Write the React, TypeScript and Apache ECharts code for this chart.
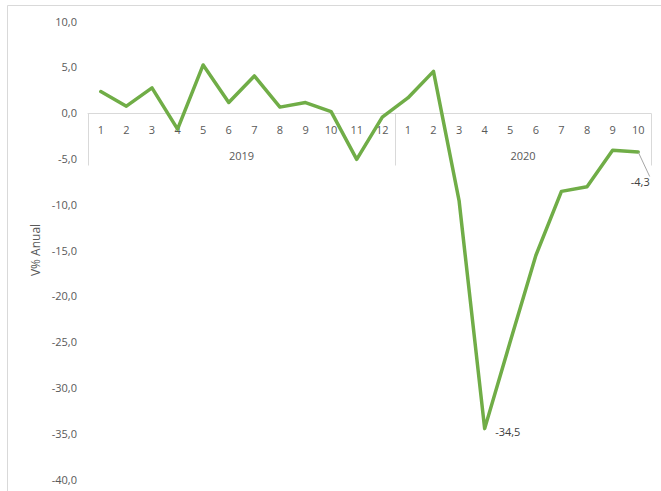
import React, { useEffect, useRef } from "react";
import * as echarts from "echarts";

const months = [
  "1", "2", "3", "4", "5", "6", "7", "8", "9", "10", "11", "12",
  "1", "2", "3", "4", "5", "6", "7", "8", "9", "10",
];
const years = ["2019", "2020"];
const yearCenters = [6, 17];
const yearBoundaries = [0, 12, 22];
const values = [
  2.3, 0.7, 2.7, -1.8, 5.2, 1.1, 4.0, 0.6, 1.1, 0.1, -5.1, -0.5,
  1.6, 4.5, -9.6, -34.5, -25.0, -15.6, -8.6, -8.1, -4.1, -4.3,
];
const labeledIndices = [15, 21];
const yMin = -40;
const yMax = 10;

const fmt = (v: number) => v.toFixed(1).replace(".", ",");
const FONT = "Open Sans";
const TXT = "#595959";

export default function App() {
  const ref = useRef<HTMLDivElement>(null);
  useEffect(() => {
    document.body.style.margin = "0";
    const chart = echarts.init(ref.current!, null, { renderer: "svg" });
    const H = 491;
    const gTop = 21, gBottom = 12, gLeft = 88, gRight = 10;
    const plotH = H - gTop - gBottom;
    const zeroY = Math.round(gTop + (yMax / (yMax - yMin)) * plotH) + 0.5;
    const data = values.map((v, i) => {
      if (i === labeledIndices[0]) {
        return {
          value: v,
          label: { show: true, position: "right", distance: 10, offset: [0, 3] },
        };
      }
      if (i === labeledIndices[1]) {
        return {
          value: v,
          label: { show: true, position: "bottom", distance: 24, offset: [2, 0] },
          labelLine: { show: true, lineStyle: { color: "#a6a6a6", width: 1 } },
        };
      }
      return v;
    });
    chart.setOption({
      animation: false,
      graphic: [
        {
          type: "rect",
          shape: { x: 7.5, y: 5.5, width: 700, height: 600 },
          style: { fill: "none", stroke: "#d9d9d9", lineWidth: 1 },
          silent: true,
        },
        {
          type: "text",
          x: 35,
          y: 250,
          rotation: Math.PI / 2,
          style: {
            text: "V% Anual",
            fill: TXT,
            font: `12px "${FONT}"`,
            align: "center",
            verticalAlign: "middle",
          },
        },
      ],
      grid: [
        { left: gLeft, right: gRight, top: gTop, bottom: gBottom, outerBoundsMode: "none", containLabel: false },
        { left: gLeft, right: gRight, top: zeroY, height: 52, outerBoundsMode: "none", containLabel: false },
      ],
      xAxis: [
        {
          type: "category",
          gridIndex: 0,
          data: months,
          boundaryGap: true,
          show: false,
        },
        {
          type: "category",
          gridIndex: 1,
          data: months,
          boundaryGap: true,
          position: "top",
          axisLine: { show: true, onZero: false, lineStyle: { color: "#d9d9d9", width: 1 } },
          axisTick: { show: false },
          axisLabel: { inside: true, margin: 10, color: TXT, fontFamily: FONT, fontSize: 11, interval: 0 },
          splitLine: { show: false },
          z: 1,
        },
        {
          type: "value",
          gridIndex: 1,
          min: 0,
          max: 22,
          position: "top",
          axisLine: { show: false, onZero: false },
          axisTick: {
            show: true,
            inside: true,
            customValues: yearBoundaries,
            length: 52,
            lineStyle: { color: "#d9d9d9", width: 1 },
          },
          axisLabel: {
            show: true,
            inside: true,
            customValues: yearCenters,
            margin: 36,
            color: TXT,
            fontFamily: FONT,
            fontSize: 11,
            formatter: (v: number) => years[yearCenters.indexOf(v)] ?? "",
          },
          splitLine: { show: false },
          z: 1,
        },
      ],
      yAxis: [
        {
          type: "value",
          gridIndex: 0,
          min: yMin,
          max: yMax,
          interval: 5,
          axisLine: { show: false },
          axisTick: { show: false },
          splitLine: { show: false },
          axisLabel: {
            margin: 11,
            color: TXT,
            fontFamily: FONT,
            fontSize: 11,
            formatter: (v: number) => fmt(v),
          },
        },
        {
          type: "value",
          gridIndex: 1,
          show: false,
          min: 0,
          max: 1,
          splitLine: { show: false },
        },
      ],
      series: [
        {
          type: "line",
          xAxisIndex: 0,
          yAxisIndex: 0,
          data,
          symbol: "circle",
          symbolSize: 1,
          showSymbol: true,
          z: 5,
          lineStyle: { color: "#70ad47", width: 3.5, cap: "round", join: "round" },
          itemStyle: { color: "#70ad47" },
          label: {
            show: false,
            color: "#404040",
            fontFamily: FONT,
            fontSize: 11,
            formatter: (p: any) => fmt(p.value),
          },
        },
      ],
    });
    return () => chart.dispose();
  }, []);
  return <div ref={ref} style={{ width: 661, height: 491 }} />;
}
